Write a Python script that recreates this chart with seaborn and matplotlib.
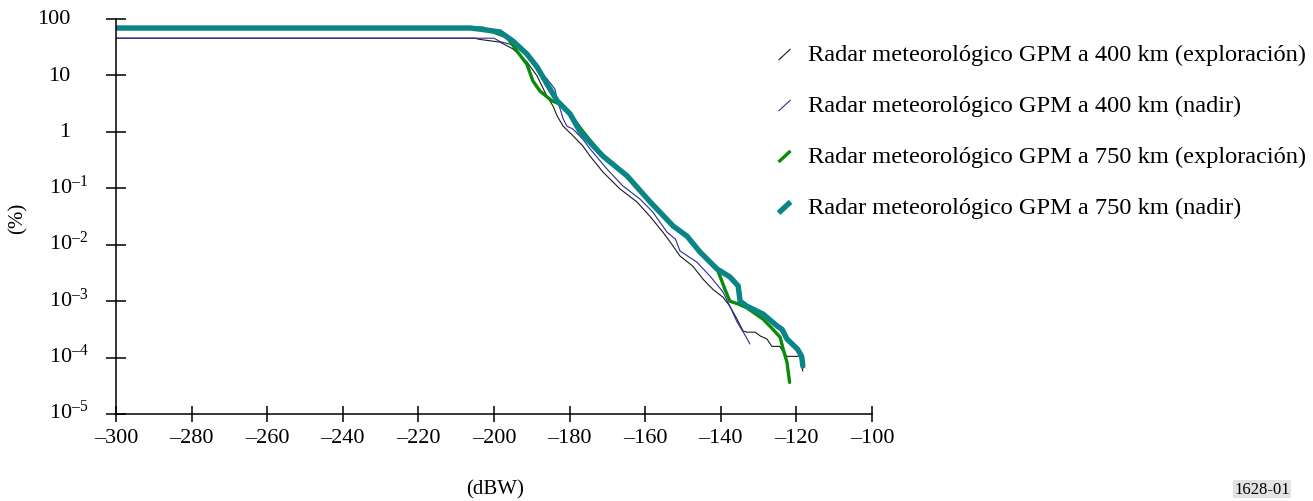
import matplotlib
matplotlib.use("Agg")
import matplotlib.pyplot as plt
import seaborn as sns
from matplotlib.legend_handler import HandlerBase
from matplotlib.lines import Line2D

# Received power (dBW) and percentage of time exceeded (%) for each radar case
power_400_scan = [-300, -205, -204, -198.4, -195.0, -191.3, -188.6, -186.0, -184.4, -183.3,
                  -181.7, -179.1, -176.5, -174.6, -171.2, -166.7, -162.2, -158.7, -155.3, -153.4,
                  -150.8, -147.4, -144.7, -142.1, -139.4, -137.6, -135.7, -134.1, -133.1, -130.9,
                  -129.5, -127.8, -126.5, -124.4, -123.5, -122.5, -119.0, -118.6, -118.3]
pct_400_scan = [45.7, 45.7, 43.7, 38.9, 29.5, 17.4, 9.77, 4.27, 2.88, 1.91,
                1.26, 0.851, 0.562, 0.372, 0.195, 0.0977, 0.0575, 0.0316, 0.0166, 0.0112,
                0.00631, 0.00417, 0.00245, 0.00162, 0.00117, 0.000813, 0.000479, 0.000295, 0.000282, 0.000282,
                0.000240, 0.000214, 0.000158, 0.000158, 0.000126, 0.000105, 0.000105, 0.0000708, 0.0000575]

power_400_nadir = [-300, -200, -198.4, -193.9, -189.7, -186.0, -183.9, -183.3, -181.7, -180.7,
                   -179.1, -176.5, -174.6, -170.1, -165.9, -161.4, -158.0, -154.2, -152.0, -150.8,
                   -146.3, -142.8, -139.4, -137.6, -135.7, -133.7, -132.3]
pct_400_nadir = [45.7, 45.7, 39.8, 33.1, 17.4, 8.71, 5.75, 3.80, 1.70, 1.26,
                 1.12, 0.741, 0.501, 0.219, 0.110, 0.0646, 0.0380, 0.0166, 0.0126, 0.00776,
                 0.00490, 0.00275, 0.00145, 0.000813, 0.000427, 0.000257, 0.000174]

power_750_scan = [-300, -203, -201.1, -196.6, -193.9, -191.3, -189.7, -187.8, -184.7, -182.5,
                  -179.9, -176.5, -171.2, -164.8, -158.7, -152.6, -148.9, -145.5, -141.0, -140.2,
                  -138.9, -137.6, -135.4, -133.1, -128.8, -126.2, -124.3, -123.5, -122.5, -121.8]
pct_750_scan = [69.2, 69.2, 61.7, 47.9, 26.9, 15.8, 7.94, 5.25, 3.55, 3.09,
                2.09, 1.02, 0.372, 0.166, 0.0575, 0.0214, 0.0141, 0.00741, 0.00372, 0.00275,
                0.00162, 0.001, 0.000891, 0.000759, 0.000479, 0.000316, 0.000229, 0.000141, 0.0000832, 0.0000363]

power_750_nadir = [-300, -206.3, -203.7, -198.4, -195.0, -191.3, -188.6, -186.0, -183.3, -179.9,
                   -177.2, -171.2, -164.8, -158.7, -152.6, -148.9, -145.5, -141.0, -137.6, -135.4,
                   -134.9, -133.1, -128.8, -125.1, -123.8, -122.5, -119.7, -118.6, -118.3]
pct_750_nadir = [69.2, 69.2, 66.1, 58.9, 40.7, 24.0, 14.1, 7.08, 3.55, 2.09,
                 1.0, 0.372, 0.166, 0.0575, 0.0214, 0.0141, 0.00741, 0.00372, 0.00269, 0.00186,
                 0.001, 0.000813, 0.000589, 0.000363, 0.000316, 0.000214, 0.000141, 0.000105, 0.0000708]

series_labels = [
    "Radar meteorológico GPM a 400 km (exploración)",
    "Radar meteorológico GPM a 400 km (nadir)",
    "Radar meteorológico GPM a 750 km (exploración)",
    "Radar meteorológico GPM a 750 km (nadir)",
]
series_colors = ["#1a1a1a", "#2a2aa0", "#0a8a0a", "#0a8585"]
series_widths = [0.8, 0.8, 2.4, 3.9]

x_ticks = [-300, -280, -260, -240, -220, -200, -180, -160, -140, -120, -100]
x_tick_labels = ["–300", "–280", "–260", "–240", "–220", "–200", "–180", "–160", "–140", "–120", "–100"]
y_ticks = [1e2, 1e1, 1e0, 1e-1, 1e-2, 1e-3, 1e-4, 1e-5]
y_tick_labels = ["100", "10", "1", r"$\mathregular{10^{–1}}$", r"$\mathregular{10^{–2}}$",
                 r"$\mathregular{10^{–3}}$", r"$\mathregular{10^{–4}}$", r"$\mathregular{10^{–5}}$"]

sns.set_style("ticks")
plt.rcParams["font.family"] = ["Liberation Serif", "DejaVu Serif"]
plt.rcParams["mathtext.fontset"] = "custom"
plt.rcParams["mathtext.rm"] = "Liberation Serif"
plt.rcParams["text.color"] = "black"
plt.rcParams["axes.labelcolor"] = "black"
plt.rcParams["xtick.color"] = "black"
plt.rcParams["ytick.color"] = "black"

fig = plt.figure(figsize=(13.13, 5.02), dpi=100)
ax = fig.add_axes([116 / 1313, 1 - 415 / 502, 756 / 1313, 395 / 502])

all_series = [
    (power_400_scan, pct_400_scan),
    (power_400_nadir, pct_400_nadir),
    (power_750_scan, pct_750_scan),
    (power_750_nadir, pct_750_nadir),
]
for (px, py), lab, col, lw in zip(all_series, series_labels, series_colors, series_widths):
    sns.lineplot(x=px, y=py, ax=ax, color=col, linewidth=lw, sort=False,
                 estimator=None, label=lab, legend=False)

ax.set_yscale("log")
ax.set_xlim(-300, -100)
ax.set_ylim(1e-5, 1e2)
ax.minorticks_off()

ax.set_xticks(x_ticks)
ax.set_xticklabels(x_tick_labels, fontsize=16, color="black")
ax.set_yticks(y_ticks)
ax.set_yticklabels([])
ax.tick_params(axis="x", direction="inout", length=12, width=1.1, color="black", pad=4)
ax.tick_params(axis="y", direction="inout", length=15, width=1.1, color="black")

for v, lab in zip(y_ticks, y_tick_labels):
    off = -33 if "^" not in lab else -20
    ax.annotate(lab, xy=(0, v), xycoords=("axes fraction", "data"),
                xytext=(off, -3), textcoords="offset points", color="black",
                ha="right", va="baseline", fontsize=16, annotation_clip=False)

for side in ["top", "right"]:
    ax.spines[side].set_visible(False)
for side in ["left", "bottom"]:
    ax.spines[side].set_color("black")
    ax.spines[side].set_linewidth(1.1)

fig.text(18 / 1313, 1 - 218 / 502, "(%)", rotation=90, ha="center", va="center",
         fontsize=15, color="black")
fig.text(495 / 1313, 1 - 490 / 502, "(dBW)", ha="center", va="center", fontsize=15,
         color="black")
fig.text(1262 / 1313, 1 - 490 / 502, "1628-01", ha="center", va="center", fontsize=12,
         color="black", bbox=dict(facecolor="#e3e3e3", edgecolor="none", pad=1.0))


class SlantHandler(HandlerBase):
    """Short diagonal stroke used as the legend key."""

    def create_artists(self, legend, orig_handle, xdescent, ydescent,
                       width, height, fontsize, trans):
        x0 = -xdescent
        y0 = -ydescent
        stroke = Line2D([x0 + 0.15 * width, x0 + 0.85 * width],
                        [y0 + 0.0 * height, y0 + 0.65 * height],
                        color=orig_handle.get_color(),
                        linewidth=orig_handle.get_linewidth(),
                        solid_capstyle="butt")
        stroke.set_transform(trans)
        return [stroke]


handles = ax.get_lines()[:4]
leg = fig.legend(handles, series_labels, loc="upper left",
                 bbox_to_anchor=(776 / 1313, 1 - 44 / 502), frameon=False, fontsize=17.6,
                 handlelength=0.7, handletextpad=0.6, labelspacing=1.18,
                 borderaxespad=0, borderpad=0,
                 handler_map={Line2D: SlantHandler()})
for t in leg.get_texts():
    t.set_color("black")

fig.savefig("out.png", dpi=100, facecolor="white")
